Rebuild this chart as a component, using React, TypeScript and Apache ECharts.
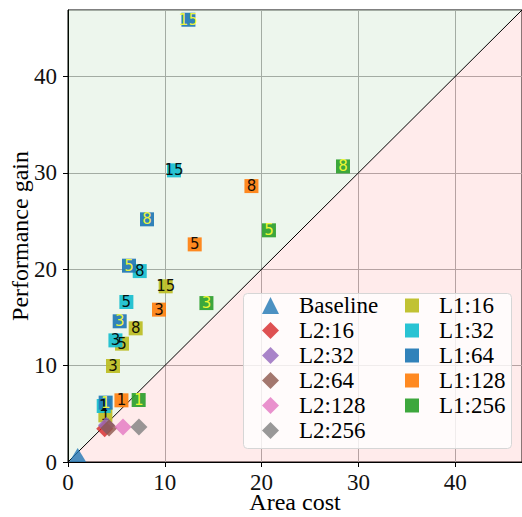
import React, { useEffect, useRef } from "react";
import * as echarts from "echarts";

// ---- data ----
const STEP_LABELS = ["1", "3", "5", "8", "15"];

const BASELINE = [[1.0, 0.72]];

const L2_NAMES = ["L2:16", "L2:32", "L2:64", "L2:128", "L2:256"];
const L2_POINTS = [
  [3.79, 3.46],
  [3.97, 3.81],
  [4.24, 3.53],
  [5.68, 3.63],
  [7.33, 3.63],
];
const L2_COLORS = ["#d62728", "#9467bd", "#8c564b", "#e377c2", "#7f7f7f"];

const L1_NAMES = ["L1:16", "L1:32", "L1:64", "L1:128", "L1:256"];
const L1_16 = [[3.86, 4.84], [4.65, 9.96], [5.58, 12.28], [6.99, 13.87], [10.09, 18.23]];
const L1_32 = [[3.69, 5.81], [4.9, 12.62], [6.03, 16.6], [7.41, 19.81], [10.95, 30.26]];
const L1_64 = [[3.89, 6.16], [5.34, 14.6], [6.3, 20.37], [8.16, 25.18], [12.44, 45.89]];
const L1_128 = [[5.52, 6.4], [9.4, 15.81], [13.09, 22.58], [18.95, 28.63]];
const L1_256 = [[7.3, 6.43], [14.3, 16.49], [20.76, 24.04], [28.41, 30.67]];
const L1_SERIES = [L1_16, L1_32, L1_64, L1_128, L1_256];
const L1_COLORS = ["#bcbd22", "#17becf", "#1f77b4", "#ff7f0e", "#2ca02c"];
const L1_TEXT_COLORS = ["#000000", "#000000", "#ffff33", "#000000", "#ffff33"];

const X_TICKS = ["0", "10", "20", "30", "40"];
const Y_TICKS = ["0", "10", "20", "30", "40"];
const AX_MAX = 46.9;
const DIAGONAL = [[0, 0], [AX_MAX, AX_MAX]];

const SERIF = "'Liberation Serif', serif";

export default function App() {
  const ref = useRef<HTMLDivElement>(null);

  useEffect(() => {
    if (!ref.current) return;
    const chart = echarts.init(ref.current, null, { renderer: "svg" });

    const tickFmt = (ticks: string[]) => (v: number) =>
      ticks.includes(String(v)) ? String(v) : "";

    const axisCommon = (ticks: string[], margin: number) => ({
      type: "value" as const,
      min: 0,
      max: AX_MAX,
      interval: 10,
      axisLine: { show: true, lineStyle: { color: "#000", width: 1 } },
      axisTick: { show: true, length: 5, inside: false, lineStyle: { color: "#000", width: 1 } },
      splitLine: { show: true, lineStyle: { color: "#b0b0b0", width: 1 } },
      axisLabel: {
        show: true,
        fontFamily: SERIF,
        fontSize: 23,
        fontWeight: "normal",
        color: "#111",
        margin,
        lineHeight: 20,
        showMaxLabel: false,
        formatter: tickFmt(ticks),
      },
      nameLocation: "middle" as const,
      nameMoveOverlap: false,
      nameTextStyle: { fontFamily: SERIF, fontSize: 24, color: "#000", lineHeight: 22 },
    });

    const series: any[] = [
      {
        type: "line",
        name: "upper",
        data: DIAGONAL,
        symbol: "none",
        silent: true,
        z: 1,
        lineStyle: { color: "#000", width: 1 },
        areaStyle: { origin: "end", color: "rgba(0,128,0,0.1)" },
      },
      {
        type: "line",
        name: "lower",
        data: DIAGONAL,
        symbol: "none",
        silent: true,
        z: 1,
        lineStyle: { width: 0, opacity: 0 },
        areaStyle: { origin: "start", color: "rgba(250,0,0,0.11)" },
      },
    ];

    L1_SERIES.forEach((pts, i) => {
      series.push({
        type: "scatter",
        name: L1_NAMES[i],
        symbol: "rect",
        symbolSize: 14,
        z: 2,
        itemStyle: { color: L1_COLORS[i], opacity: 0.92 },
        label: {
          show: true,
          position: "inside",
          formatter: "{b}",
          fontFamily: "DejaVu Sans",
          fontSize: 15,
          color: L1_TEXT_COLORS[i],
        },
        data: pts.map((p, j) => ({ name: STEP_LABELS[j], value: p })),
      });
    });

    L2_POINTS.forEach((p, i) => {
      series.push({
        type: "scatter",
        name: L2_NAMES[i],
        symbol: "diamond",
        symbolSize: 17,
        z: 3,
        itemStyle: { color: L2_COLORS[i] },
        data: [p],
      });
    });

    series.push({
      type: "scatter",
      name: "Baseline",
      symbol: "triangle",
      symbolSize: [17, 14],
      z: 3,
      clip: false,
      itemStyle: { color: "#1f77b4" },
      data: BASELINE,
    });

    const legendText = (pad: number) => ({
      fontFamily: SERIF,
      fontSize: 23,
      color: "#000",
      lineHeight: 23,
      padding: [0, 0, 0, pad],
    });

    chart.setOption({
      animation: false,
      backgroundColor: "#fff",
      textStyle: { fontFamily: SERIF },
      grid: {
        left: 68,
        top: 10,
        right: 0,
        bottom: 55,
        show: true,
        borderColor: "#000",
        borderWidth: 1,
        backgroundColor: "transparent",
        containLabel: false,
        outerBoundsMode: "none",
      },
      xAxis: {
        ...axisCommon(X_TICKS, 10),
        name: "Area cost",
        nameGap: 29,
      },
      yAxis: {
        ...axisCommon(Y_TICKS, 11),
        name: "Performance gain",
        nameGap: 37,
      },
      legend: [
        {
          data: ["Baseline", ...L2_NAMES],
          orient: "vertical",
          left: 262,
          top: 294,
          padding: 0,
          itemWidth: 17,
          itemHeight: 17,
          itemGap: 2,
          selectedMode: false,
          textStyle: legendText(15),
          z: 101,
        },
        {
          data: L1_NAMES,
          orient: "vertical",
          left: 405,
          top: 294,
          padding: 0,
          itemWidth: 14,
          itemHeight: 14,
          itemGap: 2,
          selectedMode: false,
          textStyle: legendText(15),
          z: 101,
        },
      ],
      graphic: [
        {
          type: "rect",
          z: 100,
          silent: true,
          shape: { x: 243.5, y: 293.5, width: 268, height: 155, r: 4 },
          style: { fill: "rgba(255,255,255,0.8)", stroke: "#d6d6d6", lineWidth: 1 },
        },
      ],
      series,
    });

    return () => chart.dispose();
  }, []);

  return (
    <div
      ref={ref}
      style={{ position: "fixed", left: 0, top: 0, width: 522, height: 517 }}
    />
  );
}
